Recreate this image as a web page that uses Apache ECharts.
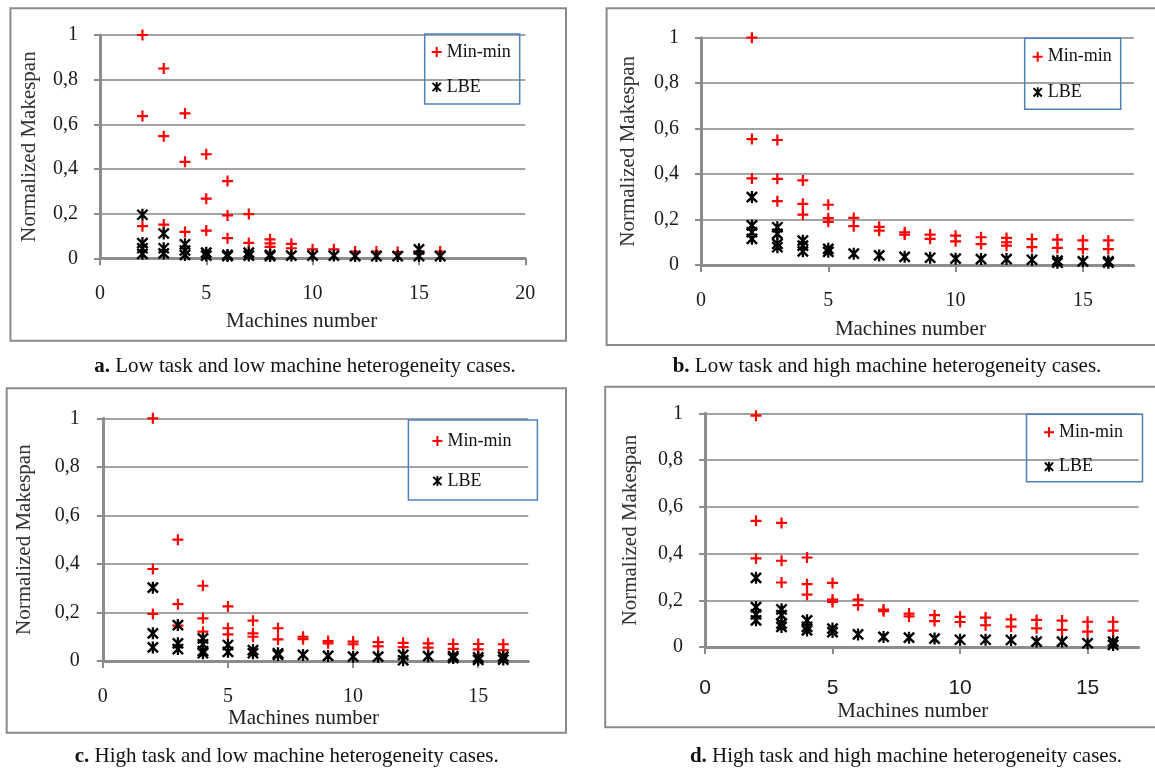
<!DOCTYPE html>
<html>
<head>
<meta charset="utf-8">
<script src="https://cdn.jsdelivr.net/npm/echarts@6/dist/echarts.min.js"></script>
<style>
html,body{margin:0;padding:0;background:#fff;}
#chart{width:1155px;height:771px;}
</style>
</head>
<body>
<div id="chart"></div>
<script>
// ---- data (x = machines number, y = normalized makespan) ----
const yTicks = [0, 0.2, 0.4, 0.6, 0.8, 1];
const xTicksA = [0, 5, 10, 15, 20];
const xTicksBCD = [0, 5, 10, 15];
const seriesNames = ['Min-min', 'LBE'];
const captions = [
  ['a.', ' Low task and low machine heterogeneity cases.'],
  ['b.', ' Low task and high machine heterogeneity cases.'],
  ['c.', ' High task and low machine heterogeneity cases.'],
  ['d.', ' High task and high machine heterogeneity cases.']
];

const minA = [[2,1.0],[2,0.637],[2,0.144],[3,0.85],[3,0.547],[3,0.151],[4,0.649],[4,0.432],[4,0.118],
  [5,0.466],[5,0.267],[5,0.124],[6,0.346],[6,0.192],[6,0.09],[7,0.198],[7,0.069],[8,0.085],[8,0.067],[8,0.051],
  [9,0.065],[9,0.045],[10,0.04],[11,0.04],[12,0.03],[13,0.03],[14,0.028],[15,0.03],[16,0.03]];
const lbeA = [[2,0.195],[2,0.068],[2,0.045],[2,0.02],[3,0.111],[3,0.045],[3,0.022],[4,0.063],[4,0.035],[4,0.015],
  [5,0.025],[5,0.012],[6,0.015],[6,0.01],[7,0.025],[7,0.012],[8,0.015],[8,0.01],[9,0.012],[10,0.012],[11,0.012],
  [12,0.01],[13,0.01],[14,0.01],[15,0.04],[15,0.01],[16,0.01]];

const minB = [[2,1.0],[2,0.554],[2,0.381],[3,0.55],[3,0.379],[3,0.281],[4,0.372],[4,0.269],[4,0.222],
  [5,0.265],[5,0.206],[5,0.19],[6,0.207],[6,0.171],[7,0.168],[7,0.151],[8,0.144],[8,0.134],[9,0.134],[9,0.115],
  [10,0.129],[10,0.104],[11,0.122],[11,0.092],[12,0.119],[12,0.1],[12,0.085],[13,0.114],[13,0.079],
  [14,0.112],[14,0.075],[15,0.108],[15,0.07],[16,0.108],[16,0.07]];
const lbeB = [[2,0.299],[2,0.174],[2,0.144],[2,0.115],[3,0.166],[3,0.137],[3,0.093],[3,0.078],[4,0.107],[4,0.085],[4,0.06],
  [5,0.071],[5,0.058],[6,0.05],[7,0.042],[8,0.036],[9,0.032],[10,0.028],[11,0.026],[12,0.026],[13,0.023],
  [14,0.019],[14,0.01],[15,0.016],[16,0.016],[16,0.01]];

const minC = [[2,1.0],[2,0.379],[2,0.194],[3,0.5],[3,0.234],[3,0.146],[4,0.31],[4,0.176],[4,0.121],
  [5,0.225],[5,0.135],[5,0.11],[6,0.166],[6,0.114],[6,0.1],[7,0.135],[7,0.089],[8,0.1],[8,0.09],
  [9,0.082],[9,0.073],[10,0.08],[10,0.069],[11,0.078],[11,0.06],[12,0.075],[12,0.057],[13,0.073],[13,0.055],
  [14,0.07],[14,0.05],[15,0.07],[15,0.048],[16,0.069],[16,0.045]];
const lbeC = [[2,0.302],[2,0.114],[2,0.056],[3,0.148],[3,0.073],[3,0.049],[4,0.093],[4,0.069],[4,0.041],[4,0.032],
  [5,0.066],[5,0.038],[6,0.045],[6,0.032],[7,0.032],[7,0.025],[8,0.025],[9,0.021],[10,0.018],[11,0.018],
  [12,0.025],[12,0.003],[13,0.02],[14,0.02],[14,0.012],[15,0.015],[15,0.005],[16,0.018],[16,0.006]];

const minD = [[2,0.99],[2,0.54],[2,0.379],[3,0.531],[3,0.369],[3,0.276],[4,0.383],[4,0.269],[4,0.224],
  [5,0.274],[5,0.203],[5,0.193],[6,0.203],[6,0.179],[7,0.16],[7,0.153],[8,0.143],[8,0.131],[9,0.136],[9,0.111],
  [10,0.129],[10,0.107],[11,0.126],[11,0.093],[12,0.118],[12,0.087],[13,0.116],[13,0.08],[14,0.113],[14,0.073],
  [15,0.108],[15,0.066],[16,0.108],[16,0.07]];
const lbeD = [[2,0.296],[2,0.171],[2,0.14],[2,0.114],[3,0.161],[3,0.136],[3,0.1],[3,0.086],[4,0.114],[4,0.086],[4,0.071],
  [5,0.079],[5,0.064],[6,0.054],[7,0.043],[8,0.04],[9,0.036],[10,0.031],[11,0.031],[12,0.03],[13,0.023],
  [14,0.023],[15,0.016],[16,0.023],[16,0.009]];

// ---- styling / layout ----
const SERIF = 'Liberation Serif';
const PLUS = 'path://M4,0H6V4H10V6H6V10H4V6H0V4H4Z';
const STAR = 'path://M4.9,0H7.1V12H4.9Z M1.849,0.151L11.849,10.151L10.151,11.849L0.151,1.849Z M11.849,1.849L1.849,11.849L0.151,10.151L10.151,0.151Z';
const AXIS_GRAY = '#8c8c8c';
const GRID_GRAY = '#a3a3a3';

const panels = [
  {grid:{left:99.9, top:35, width:425.4, height:223.3}, xmax:20, xt:xTicksA, min:minA, lbe:lbeA,
   xLabelMargin:25, xLabelFont:SERIF, xLabelSize:20, xNameGap:53, xNamePad:[0,22,0,0], yNameGap:60, yLabelMargin:22,
   legend:{left:424.7, top:34, padding:[9,9,8,7], itemGap:17},
   frame:[10.4,8.3,555.6,332.4], cap:[305,366.7]},
  {grid:{left:701, top:37.7, width:432.8, height:227.3}, xmax:17, xt:xTicksBCD, min:minB, lbe:lbeB,
   xLabelMargin:26, xLabelFont:SERIF, xLabelSize:20, xNameGap:54, xNamePad:[0,14,0,0], yNameGap:62, yLabelMargin:22,
   legend:{left:1024.7, top:38.3, padding:[9.4,9,8,8], itemGap:17.6},
   frame:[606.6,8.3,560,336.7], cap:[887,366.7]},
  {grid:{left:102.8, top:418.3, width:425.5, height:242.7}, xmax:17, xt:xTicksBCD, min:minC, lbe:lbeC,
   xLabelMargin:25.5, xLabelFont:SERIF, xLabelSize:20, xNameGap:47, xNamePad:[0,24,0,0], yNameGap:68, yLabelMargin:23,
   legend:{left:408.4, top:420, padding:[12,26,10,24], itemGap:22},
   frame:[6.7,388.3,559.3,344.4], cap:[286.7,756.7]},
  {grid:{left:705, top:413.3, width:433.6, height:233.7}, xmax:17, xt:xTicksBCD, min:minD, lbe:lbeD,
   xLabelMargin:31, xLabelFont:'Liberation Sans', xLabelSize:21, xNameGap:54, xNamePad:[0,18,0,0], yNameGap:64.5, yLabelMargin:22,
   legend:{left:1026.5, top:414.3, padding:[9,19.5,6,17.5], itemGap:16.4},
   frame:[605.2,386.7,560,340.6], cap:[906,756.7]}
];

const option = {
  animation: false,
  backgroundColor: '#fff',
  grid: [], xAxis: [], yAxis: [], series: [], legend: [], graphic: []
};

panels.forEach((p, i) => {
  option.grid.push(Object.assign({containLabel:false, outerBoundsMode:'none'}, p.grid));
  option.xAxis.push({
    type:'value', gridIndex:i, min:0, max:p.xmax, interval:5,
    name:'Machines number', nameLocation:'middle', nameGap:p.xNameGap,
    nameTextStyle:{fontFamily:SERIF, fontSize:21, color:'#222', padding:p.xNamePad},
    axisLine:{show:true, onZero:false, lineStyle:{color:AXIS_GRAY, width:3}},
    axisTick:{show:true, inside:false, length:7, lineStyle:{color:AXIS_GRAY, width:2}, customValues:p.xt},
    axisLabel:{show:true, margin:p.xLabelMargin, fontFamily:p.xLabelFont, fontSize:p.xLabelSize, color:'#1a1a1a', customValues:p.xt},
    splitLine:{show:false}
  });
  option.yAxis.push({
    type:'value', gridIndex:i, min:0, max:1, interval:0.2,
    name:'Normalized Makespan', nameLocation:'middle', nameGap:p.yNameGap, nameRotate:90,
    nameTextStyle:{fontFamily:SERIF, fontSize:21, color:'#333'},
    axisLine:{show:true, onZero:false, lineStyle:{color:AXIS_GRAY, width:3}},
    axisTick:{show:true, inside:false, length:6, lineStyle:{color:AXIS_GRAY, width:2}},
    axisLabel:{show:true, margin:p.yLabelMargin, fontFamily:SERIF, fontSize:20, color:'#1a1a1a',
      formatter: v => (v === 0 ? '0' : v === 1 ? '1' : v.toFixed(1).replace('.', ','))},
    splitLine:{show:true, lineStyle:{color:GRID_GRAY, width:2}}
  });
  option.series.push({
    type:'scatter', name:seriesNames[0], xAxisIndex:i, yAxisIndex:i, data:p.min,
    symbol:PLUS, symbolSize:11, itemStyle:{color:'#ff0000', opacity:1}, z:3
  });
  option.series.push({
    type:'scatter', name:seriesNames[1], xAxisIndex:i, yAxisIndex:i, data:p.lbe,
    symbol:STAR, symbolSize:12, itemStyle:{color:'#000000', opacity:1}, z:4
  });
  option.legend.push({
    show:true, orient:'vertical', left:p.legend.left, top:p.legend.top, padding:p.legend.padding,
    itemGap:p.legend.itemGap, itemWidth:10, itemHeight:10, itemTextGap:4,
    borderColor:'#4f81bd', borderWidth:1.5, backgroundColor:'transparent', selectedMode:false,
    textStyle:{fontFamily:SERIF, fontSize:18, color:'#111', lineHeight:18},
    data:[{name:seriesNames[0], icon:PLUS}, {name:seriesNames[1], icon:STAR}]
  });
  option.graphic.push({
    type:'rect', silent:true, z:-1,
    shape:{x:p.frame[0], y:p.frame[1], width:p.frame[2], height:p.frame[3]},
    style:{fill:'none', stroke:'#8a8a8a', lineWidth:2}
  });
  option.graphic.push({
    type:'text', silent:true, x:p.cap[0], y:p.cap[1],
    style:{
      text:'{b|' + captions[i][0] + '}' + captions[i][1],
      fontFamily:SERIF, fontSize:21, fill:'#111',
      align:'center', verticalAlign:'middle', textAlign:'center', textVerticalAlign:'middle',
      rich:{b:{fontFamily:SERIF, fontSize:21, fontWeight:'bold', fill:'#111'}}
    }
  });
});

const chart = echarts.init(document.getElementById('chart'), null, {renderer:'canvas'});
chart.setOption(option);
</script>
</body>
</html>
